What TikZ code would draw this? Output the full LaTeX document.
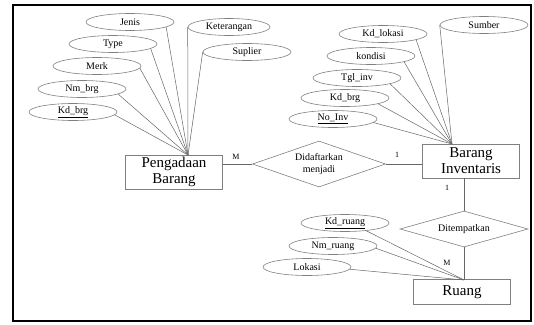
\documentclass[tikz,border=0pt]{standalone}
\usepackage{fontspec}
\setmainfont{Liberation Serif}
\usepackage{tikz}
\usetikzlibrary{positioning}
\usetikzlibrary{shapes.geometric}

\begin{document}
\begin{tikzpicture}[x=1pt, y=-1pt,
  attr/.style={ellipse, draw=black!50, line width=0.6pt, minimum width=88pt, minimum height=17pt, inner sep=0pt, font=\fontsize{10}{11}\selectfont},
  ent/.style={rectangle, draw=black!50, line width=0.6pt, minimum width=97pt, inner sep=0pt, align=center, font=\fontsize{15}{16}\selectfont},
  rel/.style={diamond, draw=black!50, line width=0.6pt, inner sep=0pt, align=center, font=\fontsize{10}{12}\selectfont},
  card/.style={inner sep=0pt, font=\fontsize{8}{9}\selectfont},
  link/.style={draw=black!60, line width=0.5pt}]

\useasboundingbox (0, 0) rectangle (534, 324);
\draw[line width=2pt] (13, 5) rectangle (531, 321);

\node[ent, minimum height=34pt] (pb) at (174, 172) {Pengadaan\\Barang};
\node[ent, minimum height=34pt] (bi) at (471, 161) {Barang\\Inventaris};
\node[ent, minimum height=25pt] (ru) at (462, 292) {Ruang};

\node[rel, aspect=2.9, minimum width=133pt, minimum height=46pt] (dm) at (319, 164) {Didaftarkan\\menjadi};
\node[rel, aspect=3.5, minimum width=128pt, minimum height=36pt] (dt) at (464, 229) {Ditempatkan};

\coordinate (pbtop) at (188, 155);
\coordinate (bitop) at (452, 144);
\coordinate (rutop) at (464, 280);

\node[attr] (jenis) at (130, 22) {Jenis};
\node[attr] (type) at (113, 44) {Type};
\node[attr] (merk) at (97, 66) {Merk};
\node[attr] (nmbrg) at (82, 89) {Nm\_brg};
\node[attr] (kdbrg) at (73, 112) {\underline{Kd\_brg}};
\node[attr, minimum width=82pt] (ket) at (229, 27) {Keterangan};
\node[attr] (sup) at (247, 52) {Suplier};

\node[attr] (sumber) at (484, 25) {Sumber};
\node[attr] (kdlok) at (383, 34) {Kd\_lokasi};
\node[attr] (kondisi) at (371, 56) {kondisi};
\node[attr] (tglinv) at (357, 78) {Tgl\_inv};
\node[attr] (kdbrgi) at (345, 98) {Kd\_brg};
\node[attr] (noinv) at (333, 119) {\underline{No\_Inv}};

\node[attr] (kdru) at (345, 223) {\underline{Kd\_ruang}};
\node[attr] (nmru) at (333, 246) {Nm\_ruang};
\node[attr] (lokasi) at (307, 267) {Lokasi};

\node[card] (c1) at (236, 157) {M};
\node[card] (c2) at (397, 155) {1};
\node[card] (c3) at (447, 188) {1};
\node[card] (c4) at (447, 263) {M};

\draw[link] (jenis.-8) -- (pbtop);
\draw[link] (type.-7) -- (pbtop);
\draw[link] (merk.-3) -- (pbtop);
\draw[link] (nmbrg.-8) -- (pbtop);
\draw[link] (kdbrg.-4) -- (pbtop);
\draw[link] (ket.west) -- (pbtop);
\draw[link] (sup.west) -- (pbtop);

\draw[link] (sumber.west) -- (bitop);
\draw[link] (kdlok.-10) -- (bitop);
\draw[link] (kondisi.-10) -- (bitop);
\draw[link] (tglinv.-10) -- (bitop);
\draw[link] (kdbrgi.-10) -- (bitop);
\draw[link] (noinv.-5) -- (bitop);

\draw[link] (kdru.-20) -- (rutop);
\draw[link] (nmru.-3) -- (rutop);
\draw[link] (lokasi.-3) -- (rutop);

\draw[link] (pb.east |- dm.west) -- (dm.west);
\draw[link] (dm.east) -- (bi.west |- dm.east);
\draw[link] (dt.north |- bi.south) -- (dt.north);
\draw[link] (dt.south) -- (rutop);

\end{tikzpicture}
\end{document}
